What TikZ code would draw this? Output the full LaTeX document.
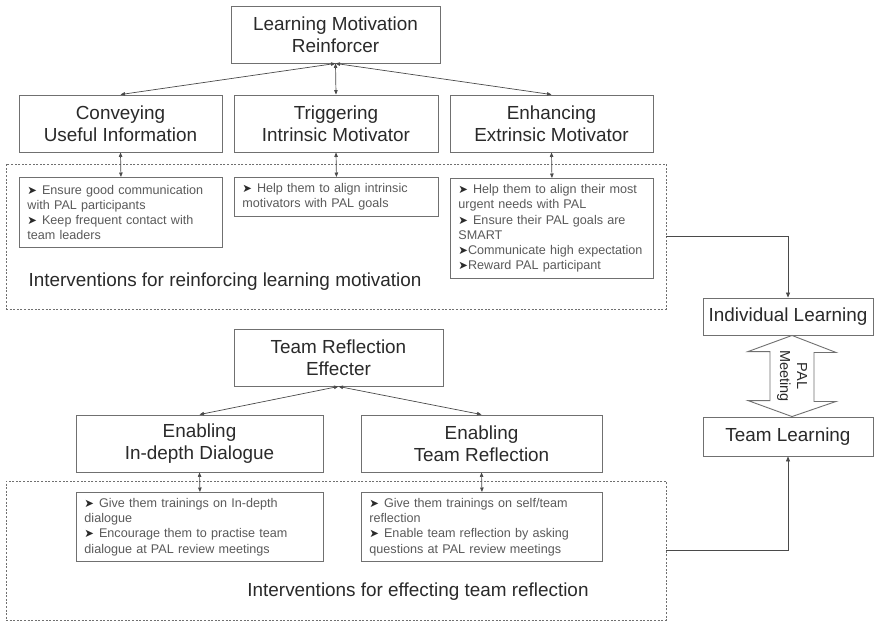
\documentclass[tikz,border=0pt]{standalone}
\usepackage{fontspec}
\setmainfont{Liberation Sans}
\newfontfamily\dejavu{DejaVu Sans}
\usetikzlibrary{arrows.meta}
\definecolor{inkmain}{HTML}{2A2A2A}
\definecolor{inksub}{HTML}{5A5A5A}
\definecolor{rulecol}{HTML}{707070}
\definecolor{linkcol}{HTML}{4A4A4A}
% list marker used in the note boxes
\newcommand\pnt{{\dejavu\fontsize{11.5}{11.5}\selectfont\color{inkmain}\char"27A4}}
\newcommand\pntgap{\pnt\hspace{5pt}}

\tikzset{
  headbox/.style={draw=rulecol, line width=0.9pt, inner sep=0pt, align=center,
    text=inkmain, font=\fontsize{18.9}{22}\selectfont},
  notebox/.style={draw=rulecol, line width=0.9pt, inner xsep=8pt, inner ysep=0pt,
    align=left, text=inksub, font=\fontsize{12.6}{15.2}\selectfont, anchor=north west},
  zone/.style={draw=rulecol, dash pattern=on 2pt off 1.6pt, line width=0.8pt, inner sep=0pt},
  zonelabel/.style={text=inkmain, font=\fontsize{18.9}{22}\selectfont, inner sep=0pt},
  link/.style={draw=linkcol, line width=0.7pt,
    {Triangle[length=4.5pt,width=3.5pt]}-{Triangle[length=4.5pt,width=3.5pt]}},
  feed/.style={draw=linkcol, line width=0.7pt, -{Triangle[length=5pt,width=4pt]}},
  blockarrow/.style={draw=rulecol, line width=0.9pt, fill=white, line join=miter},
}

\begin{document}
\begin{tikzpicture}[x=1pt, y=-1pt]
\useasboundingbox (0,0) rectangle (874,622);
\fill[white] (0,0) rectangle (874,622);

% dashed intervention zones
\node[zone, minimum width=660pt, minimum height=145pt] (zoneA) at (336,236.5) {};
\node[zone, minimum width=660pt, minimum height=139pt] (zoneB) at (336,550.5) {};

% learning motivation branch
\node[headbox, minimum width=209pt, minimum height=57pt] (lmr) at (335.5,34.5) {Learning Motivation\\Reinforcer};
\node[headbox, minimum width=203pt, minimum height=57pt] (cui) at (120.5,123.5) {Conveying\\Useful Information};
\node[headbox, minimum width=204pt, minimum height=57pt] (tim) at (336,123.5) {Triggering\\Intrinsic Motivator};
\node[headbox, minimum width=203pt, minimum height=57pt] (emo) at (551.5,123.5) {Enhancing\\Extrinsic Motivator};

\node[notebox, text width=187pt, minimum height=70pt] (cuin) at (19,177)
  {\pntgap Ensure good communication\\with PAL participants\\\pntgap Keep frequent contact with\\team leaders};
\node[notebox, text width=188pt, minimum height=39pt] (timn) at (234,177)
  {\pntgap Help them to align intrinsic\\motivators with PAL goals};
\node[notebox, text width=187pt, minimum height=100pt] (emon) at (450,178)
  {\pntgap Help them to align their most\\urgent needs with PAL\\\pntgap Ensure their PAL goals are\\SMART\\\pnt Communicate high expectation\\\pnt Reward PAL participant};

\node[zonelabel] (labA) at (225,282) {Interventions for reinforcing learning motivation};

% team reflection branch
\node[headbox, minimum width=209pt, minimum height=57pt] (tre) at (338.5,357.5) {Team Reflection\\Effecter};
\node[headbox, minimum width=247pt, minimum height=57pt] (ind) at (199.5,443.5) {Enabling\\In-depth Dialogue};
\node[headbox, minimum width=241pt, minimum height=57pt] (etr) at (481.5,443.5) {Enabling\\Team Reflection};

\node[notebox, text width=231pt, minimum height=69pt] (indn) at (76,492)
  {\pntgap Give them trainings on In-depth\\dialogue\\\pntgap Encourage them to practise team\\dialogue at PAL review meetings};
\node[notebox, text width=225pt, minimum height=69pt] (etrn) at (361,492)
  {\pntgap Give them trainings on self/team\\reflection\\\pntgap Enable team reflection by asking\\questions at PAL review meetings};

\node[zonelabel] (labB) at (418,592) {Interventions for effecting team reflection};

% learning levels
\node[headbox, minimum width=170pt, minimum height=37pt] (il) at (788,316.5) {Individual Learning};
\node[headbox, minimum width=170pt, minimum height=39pt] (tl) at (788,436.5) {Team Learning};

% two-way block arrow between the learning levels
\draw[blockarrow] ([xshift=4pt]il.south) -- ++(44,17) -- ++(-22,0) -- ++(0,49) -- ++(22,0)
  -- ([xshift=4pt]tl.north) -- ++(-44,-16) -- ++(22,0) -- ++(0,-49) -- ++(-22,0) -- cycle;
\node[rotate=-90, align=center, text=inkmain, inner sep=0pt,
  font=\fontsize{14.5}{17}\selectfont] (palm) at (792,376) {PAL\\Meeting};

% connectors
\draw[link] (lmr.south) -- (cui.north);
\draw[link] (lmr.south) -- (tim.north);
\draw[link] (lmr.south) -- (emo.north);
\draw[link] (cui.south) -- (cuin.north);
\draw[link] (tim.south) -- (timn.north);
\draw[link] (emo.south) -- (emon.north);

\draw[link] (tre.south) -- (ind.north);
\draw[link] (tre.south) -- (etr.north);
\draw[link] (ind.south) -- (indn.north);
\draw[link] (etr.south) -- (etrn.north);

\draw[feed] (zoneA.east) -| (il.north);
\draw[feed] (zoneB.east) -| (tl.south);
\end{tikzpicture}
\end{document}
